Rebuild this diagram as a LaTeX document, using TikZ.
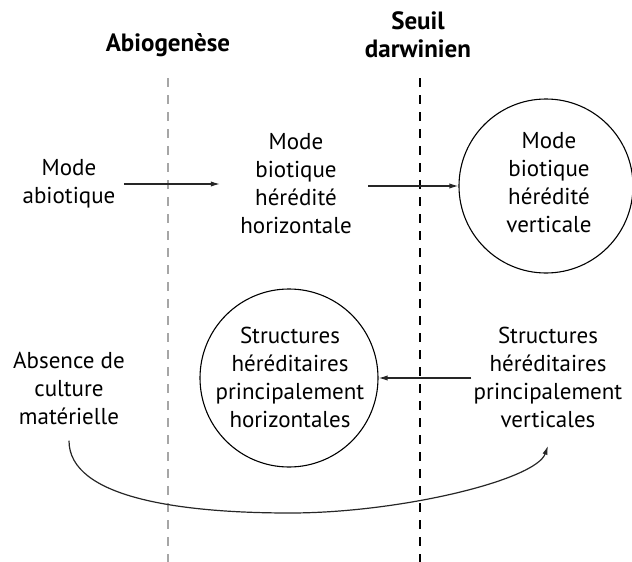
\documentclass[tikz,border=0pt]{standalone}
\usepackage{fontspec}
\setmainfont{PT Sans}
\usetikzlibrary{arrows.meta}
\tikzset{
  txt/.style={align=center, inner sep=0pt, font=\fontsize{11.5}{14}\selectfont},
  head/.style={txt, font=\fontsize{12.5}{14}\selectfont\bfseries},
  ring/.style={draw, circle, inner sep=0pt, line width=0.55pt, minimum size=89pt},
  flow/.style={-{Latex[length=4.5pt,width=2.6pt]}, line width=0.6pt, black!85},
  limit/.style={dash pattern=on 4.5pt off 4pt, line width=0.6pt}
}
\begin{document}
\begin{tikzpicture}[x=0.5pt, y=-0.5pt]
\useasboundingbox (0,0) rectangle (632,562);

% limites
\node[head] (abio) at (168,45) {Abiogenèse};
\node[head] (seuil) at (418,35) {Seuil\\darwinien};
\coordinate (abioTop) at (168,78);
\coordinate (abioBot) at (168,562);
\coordinate (seuilTop) at (420,78);
\coordinate (seuilBot) at (420,562);
\draw[limit, black!35] (abioTop) -- (abioBot);
\draw[limit] (seuilTop) -- (seuilBot);

% ligne du haut
\node[txt] (abiot) at (69,184) {Mode\\abiotique};
\node[txt] (horiz) at (296,184) {Mode\\biotique\\hérédité\\horizontale};
\node[ring, minimum size=87pt] (vert) at (546,186) {};
\node[txt] (vertTxt) at (549,183) {Mode\\biotique\\hérédité\\verticale};
\draw[flow, shorten <=4pt, shorten >=10pt] (abiot) -- (horiz);
\draw[flow, shorten <=8pt] (horiz.east |- vert) -- (vert);

% ligne du bas
\node[txt] (absence) at (69,388) {Absence de\\culture\\matérielle};
\node[ring] (strH) at (289,378) {};
\node[txt] (strHTxt) at (290,377) {Structures\\héréditaires\\principalement\\horizontales};
\node[txt] (strV) at (548,377) {Structures\\héréditaires\\principalement\\verticales};
\draw[flow, shorten <=1pt] (strV.west |- strH) -- (strH);

% retour
\coordinate (bas) at (290,513);
\draw[flow] ([yshift=-8pt]absence.south) .. controls +(0,57) and (180,513) .. (bas)
  .. controls (400,513) and (536,480) .. ([yshift=-9pt]strV.south);
\end{tikzpicture}
\end{document}
